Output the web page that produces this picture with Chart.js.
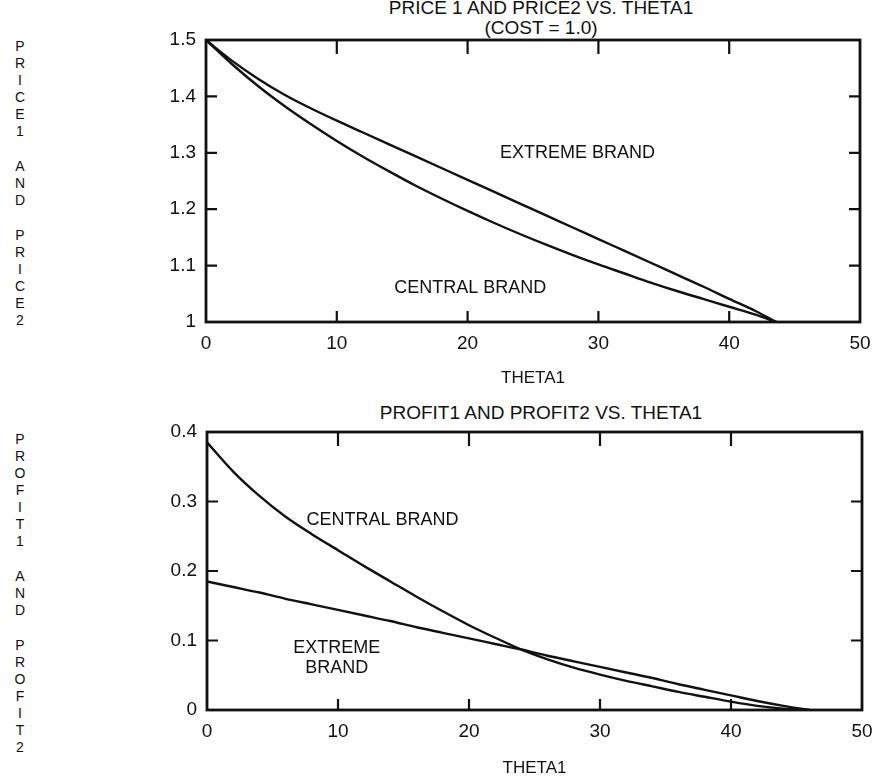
<!DOCTYPE html>
<html lang="en">
<head>
<meta charset="UTF-8">
<title>Price and profit vs. THETA1</title>
<script src="https://cdn.jsdelivr.net/npm/chart.js"></script>
<style>
    body { margin:0; background:#fff; overflow:hidden; font-family:"Liberation Sans", Arial, sans-serif; color:#111; }
    .page { position:relative; width:887px; height:779px; }
    .title { position:absolute; left:341px; width:400px; text-align:center; font-size:19px; line-height:20px; }
    .vlabel { position:absolute; left:10px; width:20px; text-align:center; font-size:14px; line-height:17px; }
    .vlabel div.gap { height:18px; }
    .box { position:absolute; left:0; }
</style>
</head>
<body>
<div class="page">
    <div class="title" style="top:-2px;">PRICE 1 AND PRICE2 VS. THETA1</div>
    <div class="title" style="top:18px;">(COST = 1.0)</div>
    <div class="title" style="top:403px;">PROFIT1 AND PROFIT2 VS. THETA1</div>

    <div class="vlabel" id="label1" style="top:38px;"></div>
    <div class="vlabel" id="label2" style="top:431px;"></div>

    <div class="box" style="top:0;"><canvas id="priceChart" width="887" height="392"></canvas></div>
    <div class="box" style="top:390px;"><canvas id="profitChart" width="887" height="400"></canvas></div>
</div>

<script>
    // values
    const priceTheta   = [0, 2, 4, 6, 8, 10, 12, 14, 16, 18, 20, 22, 24, 26, 28, 30, 32, 34, 36, 38, 40, 42, 43.6];
    const priceExtreme = [1.5, 1.463, 1.431, 1.403, 1.379, 1.357, 1.336, 1.315, 1.294, 1.273, 1.252, 1.231, 1.21, 1.189, 1.168, 1.147, 1.126, 1.105, 1.084, 1.063, 1.041, 1.0195, 1.0];
    const priceCentral = [1.5, 1.457, 1.418, 1.383, 1.351, 1.321, 1.293, 1.267, 1.242, 1.219, 1.197, 1.176, 1.156, 1.137, 1.119, 1.102, 1.086, 1.07, 1.055, 1.041, 1.027, 1.013, 1.0];

    const profitTheta   = [0, 2, 4, 6, 8, 10, 12, 14, 16, 18, 20, 22, 24, 26, 28, 30, 32, 34, 36, 38, 40, 42, 44, 46];
    const profitCentral = [0.385, 0.343, 0.308, 0.278, 0.253, 0.23, 0.207, 0.185, 0.163, 0.142, 0.122, 0.104, 0.087, 0.073, 0.061, 0.051, 0.042, 0.034, 0.026, 0.019, 0.012, 0.006, 0.002, 0.0];
    const profitExtreme = [0.185, 0.177, 0.169, 0.16, 0.152, 0.144, 0.136, 0.128, 0.119, 0.111, 0.103, 0.095, 0.087, 0.078, 0.07, 0.062, 0.054, 0.046, 0.037, 0.029, 0.021, 0.013, 0.006, 0.0];

    const xTicks = [0, 10, 20, 30, 40, 50];
    const priceTicks = [1, 1.1, 1.2, 1.3, 1.4, 1.5];
    const profitTicks = [0, 0.1, 0.2, 0.3, 0.4];

    // stacked axis letters
    function stackLetters(el, words) {
        words.forEach((w, i) => {
            if (i > 0) el.insertAdjacentHTML('beforeend', '<div class="gap"></div>');
            w.split('').forEach(ch => el.insertAdjacentHTML('beforeend', '<div>' + ch + '</div>'));
        });
    }
    stackLetters(document.getElementById('label1'), ['PRICE1', 'AND', 'PRICE2']);
    stackLetters(document.getElementById('label2'), ['PROFIT1', 'AND', 'PROFIT2']);

    const FONT = '"Liberation Sans", Arial, sans-serif';
    Chart.defaults.font.family = FONT;
    Chart.defaults.color = '#111';

    // box round the plot with tick marks pointing in, plus curve labels
    const frame = {
        id: 'frame',
        afterDatasetsDraw(chart, args, opts) {
            const ctx = chart.ctx, a = chart.chartArea, x = chart.scales.x, y = chart.scales.y;
            ctx.save();
            ctx.strokeStyle = '#111';
            ctx.lineWidth = 2.8;
            ctx.strokeRect(a.left, a.top, a.right - a.left, a.bottom - a.top);
            ctx.lineWidth = 2.2;
            ctx.beginPath();
            xTicks.forEach(v => {
                if (v <= x.min || v >= x.max) return;
                const px = x.getPixelForValue(v);
                ctx.moveTo(px, a.bottom); ctx.lineTo(px, a.bottom - 11);
                ctx.moveTo(px, a.top); ctx.lineTo(px, a.top + 14);
            });
            opts.yTicks.forEach(v => {
                if (v <= y.min || v >= y.max) return;
                const py = y.getPixelForValue(v);
                ctx.moveTo(a.left, py); ctx.lineTo(a.left + 11, py);
                ctx.moveTo(a.right, py); ctx.lineTo(a.right - 11, py);
            });
            ctx.stroke();

            ctx.fillStyle = '#111';
            ctx.font = '18px ' + FONT;
            ctx.textAlign = 'center';
            ctx.textBaseline = 'middle';
            opts.labels.forEach(l => {
                const lines = l.text.split('\n');
                const cy = y.getPixelForValue(l.y) - (lines.length - 1) * 10;
                lines.forEach((t, i) => ctx.fillText(t, x.getPixelForValue(l.x), cy + i * 20));
            });
            ctx.restore();
        }
    };

    function lineSet(xs, ys) {
        return {
            data: xs.map((v, i) => ({ x: v, y: ys[i] })),
            borderColor: '#111',
            borderWidth: 2.4,
            pointRadius: 0,
            cubicInterpolationMode: 'monotone',
            fill: false
        };
    }

    function makeChart(id, sets, yMin, yMax, yTicks, plot, labels) {
        new Chart(document.getElementById(id), {
            type: 'line',
            data: { datasets: sets },
            options: {
                responsive: false,
                animation: false,
                layout: { padding: { top: plot.top, right: plot.right, left: 0, bottom: plot.bottom } },
                plugins: {
                    legend: { display: false },
                    tooltip: { enabled: false },
                    frame: { yTicks: yTicks, labels: labels }
                },
                scales: {
                    x: {
                        type: 'linear', min: 0, max: 50,
                        afterBuildTicks: s => { s.ticks = xTicks.map(v => ({ value: v })); },
                        ticks: { padding: 10, font: { size: 19 }, maxRotation: 0 },
                        grid: { display: false, drawTicks: false },
                        border: { display: false },
                        title: { display: true, text: 'THETA1', font: { size: 17 }, padding: { top: 0, bottom: 3 } },
                        afterFit: s => { s.height = plot.xHeight; }
                    },
                    y: {
                        type: 'linear', min: yMin, max: yMax,
                        afterBuildTicks: s => { s.ticks = yTicks.map(v => ({ value: v })); },
                        ticks: { padding: 10, font: { size: 19 }, callback: v => String(+v.toFixed(1)) },
                        grid: { display: false, drawTicks: false },
                        border: { display: false },
                        afterFit: s => { s.width = plot.left; }
                    }
                }
            },
            plugins: [frame]
        });
    }

    makeChart('priceChart',
        [lineSet(priceTheta, priceExtreme), lineSet(priceTheta, priceCentral)],
        1, 1.5, priceTicks,
        { top: 40, right: 27, bottom: 0, left: 206, xHeight: 70 },
        [{ text: 'EXTREME BRAND', x: 28.4, y: 1.3 }, { text: 'CENTRAL BRAND', x: 20.2, y: 1.06 }]);

    makeChart('profitChart',
        [lineSet(profitTheta, profitCentral), lineSet(profitTheta, profitExtreme)],
        0, 0.4, profitTicks,
        { top: 42, right: 25, bottom: 8, left: 207, xHeight: 72 },
        [{ text: 'CENTRAL BRAND', x: 13.4, y: 0.273 }, { text: 'EXTREME\nBRAND', x: 9.9, y: 0.075 }]);
</script>
</body>
</html>
